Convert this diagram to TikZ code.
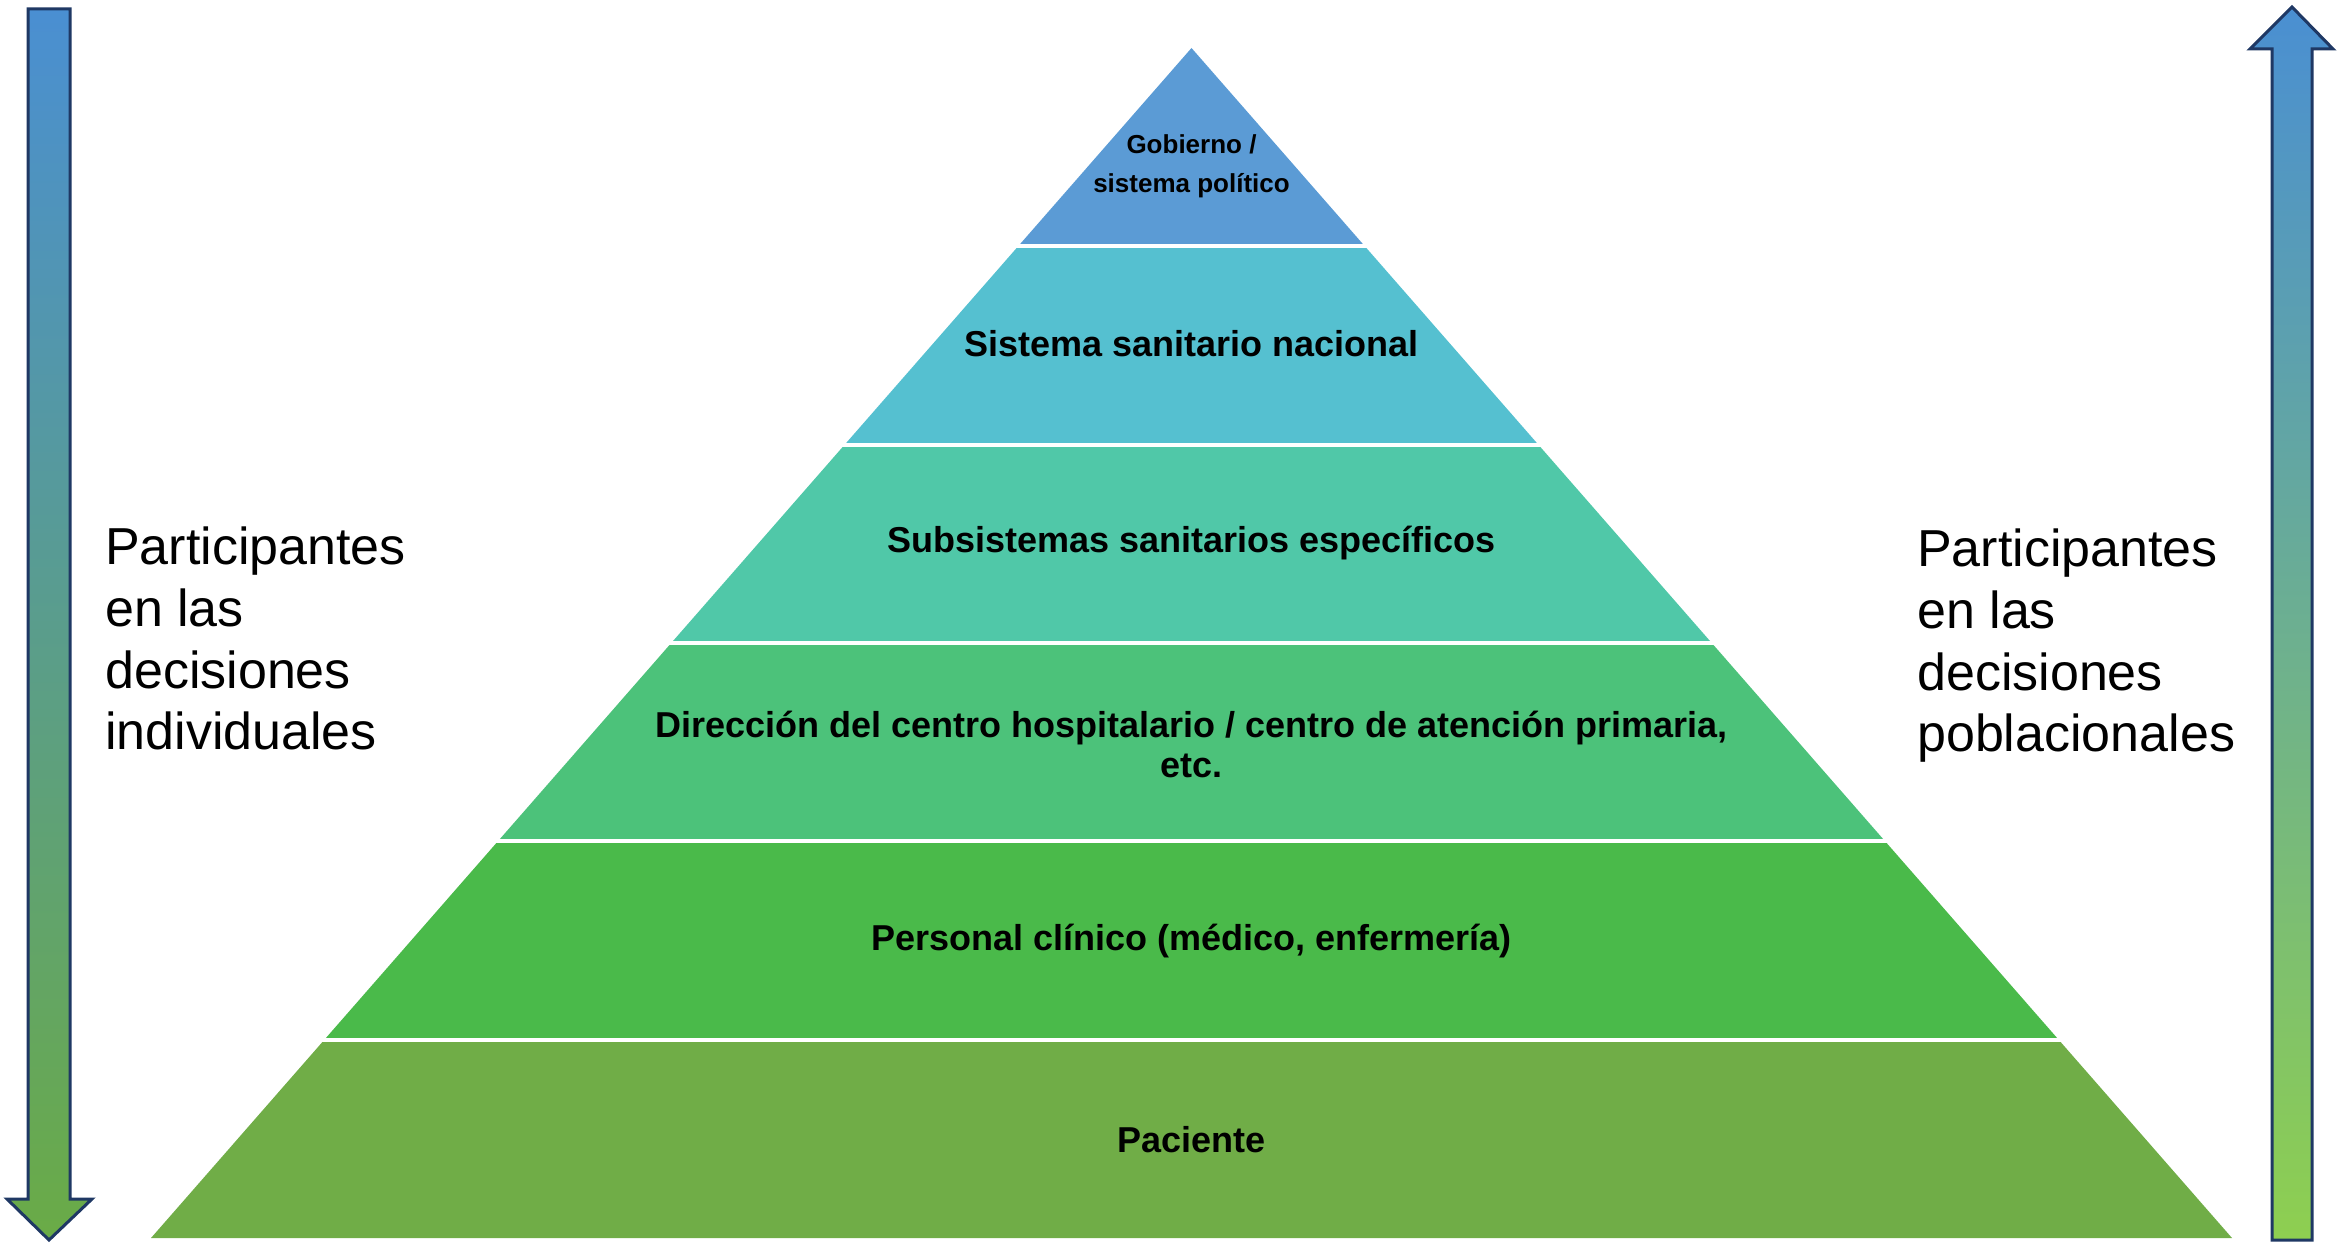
\documentclass[tikz,border=0pt]{standalone}
\usepackage{fontspec}
\setmainfont{Liberation Sans}
\definecolor{cGob}{HTML}{5B9BD5}
\definecolor{cNac}{HTML}{55C0D0}
\definecolor{cSub}{HTML}{50C8A8}
\definecolor{cDir}{HTML}{4CC27A}
\definecolor{cPer}{HTML}{4ABA4A}
\definecolor{cPac}{HTML}{70AD47}
\definecolor{navy}{HTML}{1F3864}
\definecolor{arrTop}{HTML}{4A8FD2}
\definecolor{arrBotL}{HTML}{6AAB46}
\definecolor{arrBotR}{HTML}{8ECF50}
\tikzset{
  band/.style={draw=none},
  gap/.style={draw=white, line width=4pt},
  lbl/.style={font=\bfseries\fontsize{36}{40}\selectfont, align=center, inner sep=0pt},
  sidetxt/.style={font=\fontsize{52}{61.7}\selectfont, align=left, inner sep=0pt, anchor=north west},
  bigarrow/.style={draw=navy, line width=3pt, line join=miter}
}
\begin{document}
\begin{tikzpicture}[x=1pt,y=-1pt]
\useasboundingbox (0,0) rectangle (2341,1247);
% pyramid: apex (1191.5,48), base y 1238, half width 1040.5
\def\cx{1191.5}
\pgfmathsetmacro{\k}{1040.5/1190}
\foreach \i/\col in {0/cGob,1/cNac,2/cSub,3/cDir,4/cPer,5/cPac}{
  \pgfmathsetmacro{\ya}{48+\i*198.333}
  \pgfmathsetmacro{\yb}{48+(\i+1)*198.333}
  \pgfmathsetmacro{\wa}{\k*(\ya-48)}
  \pgfmathsetmacro{\wb}{\k*(\yb-48)}
  \fill[band, fill=\col] (\cx-\wa,\ya) -- (\cx+\wa,\ya) -- (\cx+\wb,\yb) -- (\cx-\wb,\yb) -- cycle;
}
\foreach \i in {1,...,5}{
  \pgfmathsetmacro{\ya}{48+\i*198.333}
  \pgfmathsetmacro{\wa}{\k*(\ya-48)+4}
  \draw[gap] (\cx-\wa,\ya) -- (\cx+\wa,\ya);
}
% labels
\node[lbl, font=\bfseries\fontsize{26}{39}\selectfont] (gob) at (\cx,166) {Gobierno /\\sistema político};
\node[lbl] (nac) at (\cx,344) {Sistema sanitario nacional};
\node[lbl] (sub) at (\cx,543) {Subsistemas sanitarios específicos};
\node[lbl] (dir) at (\cx,744) {Dirección del centro hospitalario / centro de atención primaria,\\etc.};
\node[lbl] (per) at (\cx,941) {Personal clínico (médico, enfermería)};
\node[lbl] (pac) at (\cx,1140) {Paciente};
% side texts
\node[sidetxt] (lt) at (105,527) {Participantes\\en las\\decisiones\\individuales};
\node[sidetxt] (rt) at (1917,529) {Participantes\\en las\\decisiones\\poblacionales};
% left arrow (down)
\path[bigarrow, top color=arrTop, bottom color=arrBotL]
  (28,9) -- (70,9) -- (70,1199) -- (92,1199) -- (49,1240) -- (7,1199) -- (28,1199) -- cycle;
% right arrow (up)
\path[bigarrow, top color=arrTop, bottom color=arrBotR]
  (2292,7) -- (2333,49) -- (2312,49) -- (2312,1240) -- (2272,1240) -- (2272,49) -- (2250,49) -- cycle;
\end{tikzpicture}
\end{document}
